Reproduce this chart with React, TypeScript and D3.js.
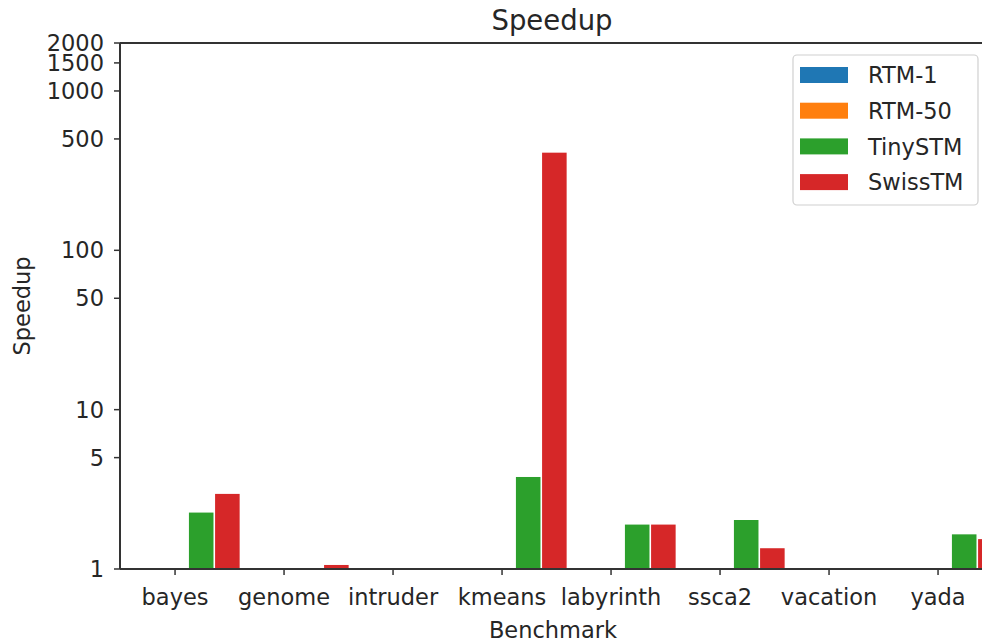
import React from "react";
import * as d3 from "d3";

const benchmarks = ["bayes", "genome", "intruder", "kmeans", "labyrinth", "ssca2", "vacation", "yada"];
const seriesNames = ["RTM-1", "RTM-50", "TinySTM", "SwissTM"];
const seriesColors = ["#1f77b4", "#ff7f0e", "#2ca02c", "#d62728"];

const rtm1 = [1, 1, 1, 1, 1, 1, 1, 1];
const rtm50 = [1, 1, 1, 1, 1, 1, 1, 1];
const tinySTM = [2.26, 1, 1, 3.78, 1.9, 2.03, 1, 1.65];
const swissTM = [2.96, 1.06, 1, 410, 1.9, 1.35, 1, 1.54];
const allSeries = [rtm1, rtm50, tinySTM, swissTM];

const yTicks = [1, 5, 10, 50, 100, 500, 1000, 1500, 2000];

const W = 982;
const H = 643;
const font = "'DejaVu Sans', sans-serif";
const textColor = "#262626";
const fs = 22.5;

const App = () => {
  const left = 120, right = 986, top = 43, bottom = 569;
  // category index -> pixel; ticks are 109px apart
  const x = d3.scaleLinear().domain([-0.505, 7.44]).range([left, right]);
  const y = d3.scaleLog().domain([1, 2000]).range([bottom, top]);
  const step = x(0.24) - x(0);

  return (
    <svg width={W} height={H} style={{ position: "absolute", left: 0, top: 0, background: "#fff" }}
      fontFamily={font}>
      <text x={(left + right) / 2 - 1} y={30} textAnchor="middle" fontSize={27.5} fill={textColor}>Speedup</text>

      {allSeries.map((vals, si) =>
        vals.map((v, ci) => {
          const cx = x(ci + (si - 1) * 0.24);
          const h = bottom - y(v);
          if (h <= 0) return null;
          return (
            <rect key={si + "-" + ci} x={cx - step / 2 + 0.8} width={step - 1.6}
              y={y(v)} height={h} fill={seriesColors[si]} />
          );
        })
      )}

      {/* spines */}
      <line x1={left} x2={left} y1={top} y2={bottom} stroke="#333" strokeWidth={2} />
      <line x1={left} x2={right} y1={bottom} y2={bottom} stroke="#333" strokeWidth={2} />
      <line x1={left} x2={right} y1={top} y2={top} stroke="#333" strokeWidth={2} />

      {yTicks.map(t => (
        <g key={t}>
          <line x1={left - 6} x2={left} y1={y(t)} y2={y(t)} stroke="#333" strokeWidth={1.5} />
          <text x={left - 16} y={y(t)} dy="0.36em" textAnchor="end" fontSize={fs} fill={textColor}>{t}</text>
        </g>
      ))}

      {benchmarks.map((b, i) => (
        <g key={b}>
          <line x1={x(i)} x2={x(i)} y1={bottom} y2={bottom + 6} stroke="#333" strokeWidth={1.5} />
          <text x={x(i)} y={605} textAnchor="middle" fontSize={fs} fill={textColor}>{b}</text>
        </g>
      ))}

      <text x={(left + right) / 2} y={638} textAnchor="middle" fontSize={fs} fill={textColor}>Benchmark</text>
      <text transform={`translate(30,${(top + bottom) / 2}) rotate(-90)`} textAnchor="middle"
        fontSize={fs} fill={textColor}>Speedup</text>

      <g>
        <rect x={793} y={55} width={185} height={150} rx={4} fill="#fff" fillOpacity={0.8}
          stroke="#d0d0d0" strokeWidth={1.2} />
        {seriesNames.map((s, i) => (
          <g key={s} transform={`translate(0,${75 + i * 35.7})`}>
            <rect x={800} y={-8} width={48} height={16} fill={seriesColors[i]} />
            <text x={868} y={0} dy="0.36em" fontSize={fs} fill={textColor}>{s}</text>
          </g>
        ))}
      </g>
    </svg>
  );
};

export default App;
